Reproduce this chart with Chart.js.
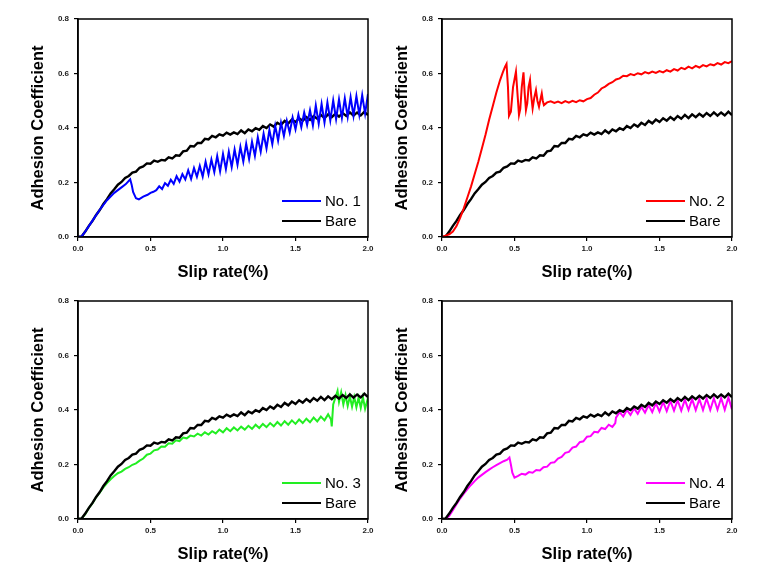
<!DOCTYPE html>
<html><head><meta charset="utf-8">
<script src="https://cdn.jsdelivr.net/npm/chart.js@4.4.1/dist/chart.umd.min.js"></script>
<style>
html,body{margin:0;padding:0;background:#fff;}
body{width:779px;height:565px;position:relative;overflow:hidden;}
canvas{position:absolute;}
</style></head><body>
<canvas id="c1" width="390" height="290" style="left:0px;top:0px"></canvas>
<canvas id="c2" width="390" height="290" style="left:364px;top:0px"></canvas>
<canvas id="c3" width="390" height="290" style="left:0px;top:282px"></canvas>
<canvas id="c4" width="390" height="290" style="left:364px;top:282px"></canvas>
<script>
const xTickLabels = ['0.0','0.5','1.0','1.5','2.0'];
const yTickLabels = ['0.0','0.2','0.4','0.6','0.8'];
const xTitle = 'Slip rate(%)';
const yTitle = 'Adhesion Coefficient';
const bareLabel = 'Bare';
const sampleLabels = ['No. 1','No. 2','No. 3','No. 4'];

const bareX = [0,0.025,0.05,0.075,0.1,0.125,0.15,0.175,0.2,0.225,0.25,0.275,0.3,0.325,0.35,0.375,0.4,0.425,0.45,0.475,0.5,0.525,0.55,0.575,0.6,0.625,0.65,0.675,0.7,0.725,0.75,0.775,0.8,0.825,0.85,0.875,0.9,0.925,0.95,0.975,1,1.025,1.05,1.075,1.1,1.125,1.15,1.175,1.2,1.225,1.25,1.275,1.3,1.325,1.35,1.375,1.4,1.425,1.45,1.475,1.5,1.525,1.55,1.575,1.6,1.625,1.65,1.675,1.7,1.725,1.75,1.775,1.8,1.825,1.85,1.875,1.9,1.925,1.95,1.975,2];
const bareY = [0,0.002,0.02,0.041,0.059,0.081,0.099,0.121,0.139,0.16,0.175,0.192,0.202,0.217,0.224,0.236,0.24,0.254,0.259,0.27,0.269,0.28,0.276,0.283,0.281,0.292,0.288,0.3,0.298,0.314,0.317,0.334,0.332,0.345,0.345,0.36,0.358,0.371,0.366,0.377,0.372,0.383,0.376,0.384,0.378,0.391,0.381,0.395,0.388,0.399,0.393,0.407,0.4,0.413,0.405,0.419,0.411,0.426,0.417,0.431,0.422,0.436,0.427,0.44,0.43,0.444,0.434,0.448,0.436,0.45,0.44,0.452,0.442,0.455,0.444,0.457,0.445,0.457,0.446,0.46,0.447];

const no1X = [0,0.025,0.05,0.1,0.15,0.2,0.25,0.3,0.33,0.36,0.37,0.38,0.4,0.42,0.45,0.48,0.5,0.52,0.54,0.56,0.58,0.6,0.62,0.64,0.66,0.68,0.7,0.72,0.74,0.76,0.78,0.8,0.82,0.84,0.86,0.88,0.9,0.92,0.94,0.96,0.98,1,1.02,1.04,1.06,1.08,1.1,1.12,1.14,1.16,1.18,1.2,1.22,1.24,1.26,1.28,1.3,1.32,1.34,1.36,1.38,1.4,1.42,1.44,1.46,1.48,1.5,1.52,1.54,1.56,1.58,1.6,1.62,1.64,1.66,1.68,1.7,1.72,1.74,1.76,1.78,1.8,1.82,1.84,1.86,1.88,1.9,1.92,1.94,1.96,1.98,2];
const no1Y = [0,0.002,0.02,0.06,0.1,0.135,0.162,0.182,0.194,0.212,0.192,0.165,0.142,0.138,0.148,0.155,0.162,0.166,0.172,0.186,0.176,0.198,0.188,0.210,0.195,0.223,0.203,0.231,0.211,0.245,0.213,0.253,0.221,0.261,0.222,0.276,0.230,0.284,0.238,0.297,0.241,0.305,0.249,0.313,0.257,0.321,0.265,0.331,0.277,0.342,0.286,0.350,0.298,0.366,0.313,0.379,0.325,0.393,0.341,0.408,0.354,0.420,0.371,0.427,0.383,0.439,0.395,0.449,0.403,0.457,0.411,0.465,0.409,0.483,0.416,0.488,0.420,0.494,0.428,0.501,0.433,0.505,0.437,0.509,0.441,0.513,0.445,0.517,0.449,0.521,0.453,0.525];

const no2X = [0,0.025,0.05,0.075,0.1,0.125,0.15,0.175,0.2,0.225,0.25,0.275,0.3,0.325,0.35,0.375,0.4,0.42,0.435,0.445,0.455,0.462,0.475,0.49,0.51,0.52,0.531,0.54,0.55,0.562,0.57,0.579,0.588,0.597,0.607,0.615,0.625,0.636,0.648,0.658,0.669,0.679,0.688,0.695,0.703,0.725,0.75,0.775,0.8,0.825,0.85,0.875,0.9,0.925,0.95,0.975,1,1.025,1.05,1.075,1.1,1.125,1.15,1.175,1.2,1.225,1.25,1.275,1.3,1.325,1.35,1.375,1.4,1.425,1.45,1.475,1.5,1.525,1.55,1.575,1.6,1.625,1.65,1.675,1.7,1.725,1.75,1.775,1.8,1.825,1.85,1.875,1.9,1.925,1.95,1.975,2];
const no2Y = [0,0.005,0.01,0.02,0.04,0.07,0.105,0.145,0.185,0.23,0.275,0.325,0.375,0.43,0.48,0.53,0.575,0.605,0.625,0.635,0.55,0.445,0.46,0.55,0.607,0.53,0.448,0.47,0.55,0.604,0.53,0.466,0.49,0.55,0.576,0.52,0.472,0.51,0.539,0.5,0.478,0.505,0.527,0.5,0.484,0.494,0.498,0.492,0.497,0.491,0.499,0.493,0.5,0.495,0.502,0.498,0.506,0.51,0.522,0.53,0.545,0.552,0.562,0.568,0.578,0.582,0.592,0.59,0.598,0.594,0.601,0.597,0.605,0.6,0.607,0.602,0.609,0.604,0.612,0.607,0.616,0.611,0.621,0.616,0.625,0.619,0.628,0.622,0.631,0.626,0.634,0.63,0.638,0.633,0.642,0.638,0.645];

const no3X = [0,0.025,0.05,0.075,0.1,0.125,0.15,0.175,0.2,0.225,0.25,0.275,0.3,0.325,0.35,0.375,0.4,0.425,0.45,0.475,0.5,0.525,0.55,0.575,0.6,0.625,0.65,0.675,0.7,0.725,0.75,0.775,0.8,0.825,0.85,0.875,0.9,0.925,0.95,0.975,1,1.025,1.05,1.075,1.1,1.125,1.15,1.175,1.2,1.225,1.25,1.275,1.3,1.325,1.35,1.375,1.4,1.425,1.45,1.475,1.5,1.525,1.55,1.575,1.6,1.625,1.65,1.675,1.7,1.725,1.745,1.75,1.76,1.775,1.79,1.8,1.815,1.83,1.845,1.86,1.875,1.89,1.905,1.92,1.935,1.95,1.965,1.98,2];
const no3Y = [0,0.002,0.018,0.04,0.058,0.08,0.097,0.116,0.132,0.146,0.158,0.168,0.174,0.184,0.19,0.199,0.204,0.214,0.222,0.236,0.24,0.252,0.255,0.266,0.265,0.278,0.276,0.289,0.286,0.299,0.296,0.306,0.303,0.313,0.306,0.318,0.31,0.322,0.314,0.328,0.318,0.333,0.322,0.336,0.325,0.339,0.328,0.342,0.331,0.346,0.334,0.349,0.337,0.352,0.34,0.356,0.343,0.359,0.346,0.362,0.349,0.365,0.352,0.368,0.355,0.372,0.358,0.376,0.362,0.384,0.365,0.34,0.42,0.445,0.47,0.43,0.465,0.42,0.455,0.415,0.45,0.412,0.448,0.41,0.446,0.408,0.447,0.405,0.445];

const no4X = [0,0.025,0.05,0.075,0.1,0.125,0.15,0.175,0.2,0.225,0.25,0.275,0.3,0.325,0.35,0.375,0.4,0.425,0.45,0.465,0.475,0.485,0.5,0.525,0.55,0.575,0.6,0.625,0.65,0.675,0.7,0.725,0.75,0.775,0.8,0.825,0.85,0.875,0.9,0.925,0.95,0.975,1,1.025,1.05,1.075,1.1,1.125,1.15,1.175,1.195,1.2,1.225,1.25,1.275,1.3,1.325,1.35,1.375,1.4,1.425,1.45,1.475,1.5,1.525,1.55,1.575,1.6,1.625,1.65,1.675,1.7,1.725,1.75,1.775,1.8,1.825,1.85,1.875,1.9,1.925,1.95,1.975,2];
const no4Y = [0,0,0.012,0.032,0.054,0.075,0.093,0.11,0.125,0.139,0.152,0.162,0.172,0.181,0.19,0.198,0.205,0.212,0.218,0.226,0.2,0.17,0.152,0.158,0.166,0.163,0.172,0.17,0.18,0.178,0.19,0.192,0.206,0.208,0.222,0.228,0.243,0.246,0.262,0.266,0.282,0.285,0.302,0.304,0.32,0.318,0.334,0.33,0.346,0.338,0.352,0.372,0.392,0.376,0.4,0.382,0.406,0.386,0.412,0.39,0.418,0.392,0.425,0.394,0.43,0.396,0.433,0.398,0.436,0.398,0.438,0.4,0.44,0.4,0.44,0.4,0.442,0.4,0.443,0.401,0.444,0.401,0.446,0.402];

const FONT = '"Liberation Sans", Arial, Helvetica, sans-serif';

function pts(xs, ys) { return xs.map((x, i) => ({ x: x, y: ys[i] })); }

const framePlugin = {
  id: 'frameLegend',
  afterDatasetsDraw(chart) {
    const ctx = chart.ctx, a = chart.chartArea;
    ctx.save();
    ctx.strokeStyle = '#000';
    ctx.lineWidth = 1.5;
    ctx.strokeRect(a.left, a.top, a.right - a.left, a.bottom - a.top);
    ctx.font = '15px ' + FONT;
    ctx.textBaseline = 'middle';
    ctx.textAlign = 'left';
    chart.data.datasets.forEach((d, i) => {
      const y = a.bottom - 36 + i * 20;
      ctx.strokeStyle = d.borderColor;
      ctx.lineWidth = 2;
      ctx.beginPath();
      ctx.moveTo(a.right - 86, y);
      ctx.lineTo(a.right - 47, y);
      ctx.stroke();
      ctx.fillStyle = '#000';
      ctx.fillText(d.label, a.right - 43, y + 1);
    });
    ctx.restore();
  }
};

function makeChart(id, label, color, xs, ys, bareOnTop) {
  new Chart(document.getElementById(id), {
    type: 'line',
    data: {
      datasets: [
        { label: label, data: pts(xs, ys), borderColor: color, borderWidth: 2, pointRadius: 0, tension: 0, order: bareOnTop ? 1 : 0 },
        { label: bareLabel, data: pts(bareX, bareY), borderColor: '#000000', borderWidth: 2.4, pointRadius: 0, tension: 0, order: bareOnTop ? 0 : 1 }
      ]
    },
    options: {
      responsive: false,
      devicePixelRatio: 1,
      animation: false,
      events: [],
      layout: { padding: { top: 19, right: 22, left: 0, bottom: 0 } },
      plugins: { legend: { display: false }, tooltip: { enabled: false } },
      scales: {
        x: {
          type: 'linear', min: 0, max: 2,
          afterFit: s => { s.height = 53; },
          grid: { display: true, drawOnChartArea: false, drawTicks: true, tickLength: 4, color: '#000', lineWidth: 1.2 },
          border: { display: true, color: '#000', width: 1.5 },
          ticks: { stepSize: 0.5, padding: 3, color: '#222', maxRotation: 0,
                   font: { family: FONT, size: 8, weight: 'bold' },
                   callback: (v, i) => xTickLabels[i] },
          title: { display: true, text: xTitle, color: '#000',
                   font: { family: FONT, size: 16.5, weight: 'bold' },
                   padding: { top: 0, bottom: 7.5 } }
        },
        y: {
          type: 'linear', min: 0, max: 0.8,
          afterFit: s => { s.width = 78; },
          grid: { display: true, drawOnChartArea: false, drawTicks: true, tickLength: 4, color: '#000', lineWidth: 1.2 },
          border: { display: true, color: '#000', width: 1.5 },
          ticks: { stepSize: 0.2, padding: 5, color: '#222',
                   font: { family: FONT, size: 8, weight: 'bold' },
                   callback: (v, i) => yTickLabels[i] },
          title: { display: true, text: yTitle, color: '#000',
                   font: { family: FONT, size: 16.5, weight: 'bold' },
                   padding: { top: 29, bottom: 0 } }
        }
      }
    },
    plugins: [framePlugin]
  });
}

makeChart('c1', sampleLabels[0], '#0000ff', no1X, no1Y, false);
makeChart('c2', sampleLabels[1], '#ff0000', no2X, no2Y, false);
makeChart('c3', sampleLabels[2], '#22ee22', no3X, no3Y, true);
makeChart('c4', sampleLabels[3], '#ff00ff', no4X, no4Y, true);
</script>
</body></html>
